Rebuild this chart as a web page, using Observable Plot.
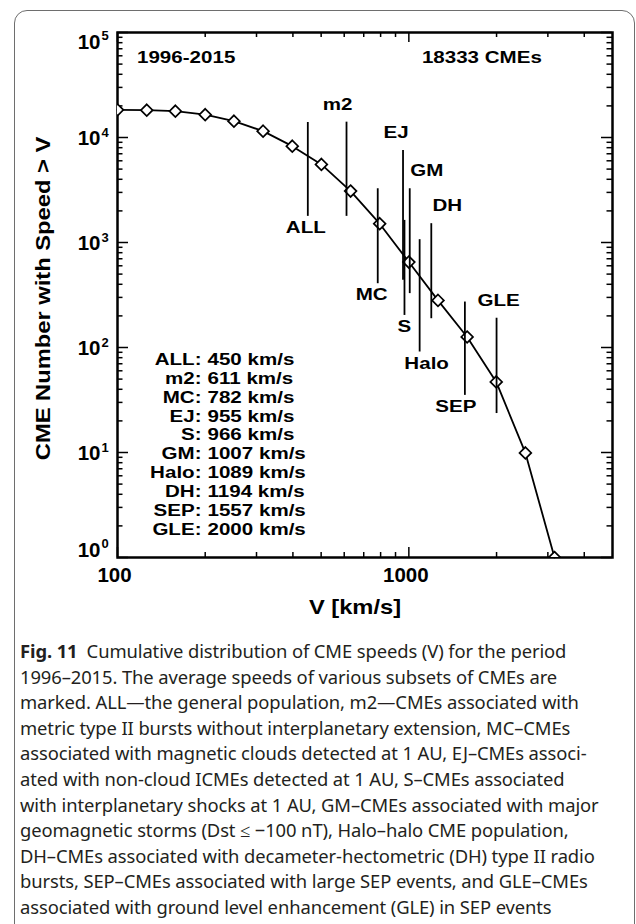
<!DOCTYPE html>
<html><head><meta charset="utf-8">
<script src="https://cdn.jsdelivr.net/npm/d3@7"></script>
<script src="https://cdn.jsdelivr.net/npm/@observablehq/plot@0.6"></script>
<style>
html,body{margin:0;padding:0;background:#fff;}
#wrap{position:relative;width:636px;height:924px;overflow:hidden;}
#card{position:absolute;left:14px;top:10px;width:621px;height:1000px;border:1.5px solid #6e6e6e;border-radius:13px;box-sizing:border-box;pointer-events:none;}
#chart{position:absolute;left:0;top:0;}
#caption{position:absolute;left:20px;top:638px;font-family:"Noto Sans";font-size:18.4px;line-height:25.6px;color:#231f20;white-space:nowrap;letter-spacing:-0.1px;}
</style></head>
<body><div id="wrap"><div id="chart"></div><div id="caption"></div><div id="card"></div></div>
<script>
// ---- data ----
const speedBins = [100,126,158,200,251,316,398,501,631,794,1000,1259,1585,1995,2512,3162];
const cmeCounts = [18333,18200,17800,16500,14300,11500,8270,5540,3090,1510,651,281,126,47,9.9,1.0];

const subsetNames  = ["ALL","m2","MC","EJ","S","GM","Halo","DH","SEP","GLE"];
const subsetSpeeds = [450,611,782,955,966,1007,1089,1194,1557,2000];
const barTop       = [13900,14000,3250,7530,1624,3250,1064,1511,271,190];
const barBottom    = [1774,1774,405,436,202,326,90.6,188,35,23.5];
const labelSide    = ["below","above","below","above","below","above","below","above","below","above"];

const periodText = "1996-2015";
const totalText = "18333 CMEs";

const xTickValues = [100,1000];
const xTickLabels = ["100","1000"];
const yTickValues = [1,10,100,1000,10000,100000];
const yTickExps   = ["0","1","2","3","4","5"];

const xTitle = "V [km/s]";
const yTitle = "CME Number with Speed > V";

const captionLines = [
  "<b>Fig. 11</b>&ensp;Cumulative distribution of CME speeds (V) for the period",
  "1996–2015. The average speeds of various subsets of CMEs are",
  "marked. ALL—the general population, m2—CMEs associated with",
  "metric type II bursts without interplanetary extension, MC–CMEs",
  "associated with magnetic clouds detected at 1 AU, EJ–CMEs associ-",
  "ated with non-cloud ICMEs detected at 1 AU, S–CMEs associated",
  "with interplanetary shocks at 1 AU, GM–CMEs associated with major",
  "geomagnetic storms (Dst ≤ −100 nT), Halo–halo CME population,",
  "DH–CMEs associated with decameter-hectometric (DH) type II radio",
  "bursts, SEP–CMEs associated with large SEP events, and GLE–CMEs",
  "associated with ground level enhancement (GLE) in SEP events"
];

// ---- tables ----
const curve = speedBins.map((v,i) => ({v, n: cmeCounts[i]}));
const subsets = subsetNames.map((name,i) => ({name, speed: subsetSpeeds[i], top: barTop[i], bottom: barBottom[i], side: labelSide[i]}));
const xTicksRows = xTickValues.map((v,i) => ({v, label: xTickLabels[i]}));
const yTicksRows = yTickValues.map((v,i) => ({v, exp: yTickExps[i]}));

// minor tick positions (log 2..9 per decade)
const xMinor = [], yMinor = [];
for (const d of [100,1000]) for (let m = 2; m <= 9; m++) if (d*m < 5000) xMinor.push(d*m);
for (const d of [1,10,100,1000,10000]) for (let m = 2; m <= 9; m++) yMinor.push(d*m);

// ---- layout ----
const W = 636, H = 628;
const mL = 117, mR = 24, mT = 32, mB = 71;
const innerW = W - mL - mR, innerH = H - mT - mB;
const SANS = "Liberation Sans, Arial, Helvetica, sans-serif";
const labelNudge = {ALL:-2, m2:-9, MC:-6, EJ:-7, S:0, GM:17, Halo:7, DH:16, SEP:-9, GLE:2};

const txt = {fontFamily: SANS, fontWeight: "bold", fill: "black"};

const marks = [
  // ticks, inward on all four sides
  Plot.tickX(xTickValues, {x: d => d, insetTop: innerH - 10, strokeWidth: 1.5}),
  Plot.tickX(xTickValues, {x: d => d, insetBottom: innerH - 10, strokeWidth: 1.5}),
  Plot.tickX(xMinor, {x: d => d, insetTop: innerH - 5, strokeWidth: 1.5}),
  Plot.tickX(xMinor, {x: d => d, insetBottom: innerH - 5, strokeWidth: 1.5}),
  Plot.tickY(yTickValues, {y: d => d, insetRight: innerW - 11, strokeWidth: 1.5}),
  Plot.tickY(yTickValues, {y: d => d, insetLeft: innerW - 11, strokeWidth: 1.5}),
  Plot.tickY(yMinor, {y: d => d, insetRight: innerW - 5.5, strokeWidth: 1.5}),
  Plot.tickY(yMinor, {y: d => d, insetLeft: innerW - 5.5, strokeWidth: 1.5}),
  Plot.frame({stroke: "black", strokeWidth: 2.5}),

  // curve
  Plot.line(curve, {x: "v", y: "n", stroke: "black", strokeWidth: 1.8}),
  Plot.dot(curve, {x: "v", y: "n", symbol: "diamond2", r: 5.3, fill: "white", stroke: "black", strokeWidth: 1.7, clip: true}),

  // subset average speed markers
  Plot.ruleX(subsets, {x: "speed", y1: "bottom", y2: "top", stroke: "black", strokeWidth: 1.8}),
  ...subsets.map(s => Plot.text([s], {
    x: "speed", y: s.side === "above" ? "top" : "bottom", text: "name",
    dx: labelNudge[s.name], dy: s.side === "above" ? -12.5 : 16.5,
    lineAnchor: "middle", textAnchor: "middle", fontSize: 17, ...txt
  })),

  // corner texts
  Plot.text([periodText], {text: d => d, frameAnchor: "top-left", textAnchor: "start", dx: 19.5, dy: 30.4, lineAnchor: "middle", fontSize: 17, ...txt}),
  Plot.text([totalText], {text: d => d, frameAnchor: "top-right", textAnchor: "end", dx: -70.6, dy: 30.4, lineAnchor: "middle", fontSize: 17, ...txt}),

  // legend block
  Plot.text([subsets.map(s => s.name + ":").join("\n")], {text: d => d, frameAnchor: "top-left", textAnchor: "end", lineAnchor: "top", dx: 84, dy: 318.7, lineHeight: 1.115, fontSize: 17, ...txt}),
  Plot.text([subsets.map(s => s.speed + " km/s").join("\n")], {text: d => d, frameAnchor: "top-left", textAnchor: "start", lineAnchor: "top", dx: 90, dy: 318.7, lineHeight: 1.115, fontSize: 17, ...txt}),

  // x tick labels
  Plot.text(xTicksRows, {x: "v", text: "label", frameAnchor: "bottom", textAnchor: "middle", dy: 18, dx: -3, lineAnchor: "middle", fontSize: 20.5, ...txt}),

  // y tick labels (base 10 + exponent)
  ...[[yTicksRows.slice(1,5), 0], [yTicksRows.slice(5), 8.8], [yTicksRows.slice(0,1), -8.5]].flatMap(([rows, shift]) => [
    Plot.text(rows, {y: "v", text: () => "10", frameAnchor: "left", textAnchor: "end", dx: -17, dy: 1 + shift, lineAnchor: "middle", fontSize: 20.5, ...txt}),
    Plot.text(rows, {y: "v", text: "exp", frameAnchor: "left", textAnchor: "start", dx: -16, dy: -5 + shift, lineAnchor: "middle", fontSize: 13, ...txt})
  ]),

  // axis titles
  Plot.text([xTitle], {text: d => d, frameAnchor: "bottom", textAnchor: "middle", dx: -10, dy: 56, lineAnchor: "middle", fontSize: 21, ...txt}),
  Plot.text([yTitle], {text: d => d, frameAnchor: "left", textAnchor: "middle", rotate: -90, dx: -68, dy: 3.5, lineAnchor: "middle", fontSize: 21, ...txt})
];

const chart = Plot.plot({
  width: W, height: H,
  marginLeft: mL, marginRight: mR, marginTop: mT, marginBottom: mB,
  x: {type: "log", domain: [100, 5000], axis: null},
  y: {type: "log", domain: [1, 100000], axis: null},
  style: {background: "transparent", fontFamily: SANS, overflow: "visible"},
  marks
});
document.getElementById("chart").appendChild(chart);

// horizontal stretch of bold labels (the reference's lettering is wider than Arial)
const stretchBySize = {"17": 1.21, "21": 1.13};
chart.querySelectorAll('g[aria-label="text"]').forEach(g => {
  const k = stretchBySize[g.getAttribute("font-size")];
  if (!k) return;
  g.querySelectorAll("text").forEach(t => {
    const tr = t.getAttribute("transform") || "";
    const x = +t.getAttribute("x") || 0, y = +t.getAttribute("y") || 0;
    t.removeAttribute("x"); t.removeAttribute("y");
    t.setAttribute("transform", `${tr} translate(${x},${y}) scale(${k},1)`);
  });
});

document.getElementById("caption").innerHTML = captionLines.join("<br>");
</script>
</body></html>
